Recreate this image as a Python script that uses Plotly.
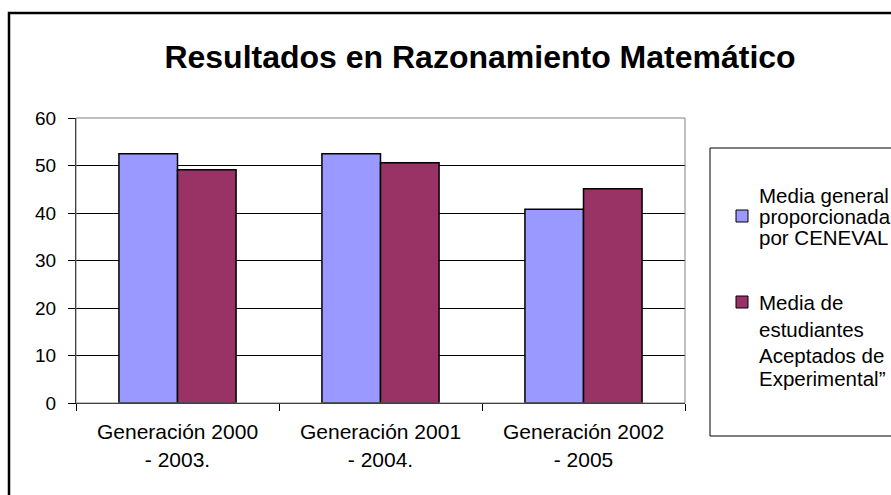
import plotly.graph_objects as go

# datos
categorias = ["Generación 2000<br>- 2003.", "Generación 2001<br>- 2004.", "Generación 2002<br>- 2005"]
media_ceneval = [52.5, 52.5, 40.8]
media_aceptados = [49.1, 50.6, 45.1]
etiqueta_1 = ["Media general", "proporcionada", "por CENEVAL"]
etiqueta_2 = ["Media de", "estudiantes", "Aceptados de", "Experimental”"]
y_ticks = [0, 10, 20, 30, 40, 50, 60]

AZUL = "#9999FF"
GRANATE = "#993366"
FUENTE = "Liberation Sans, Arial, sans-serif"

# area del grafico en pixeles
L, R, T, B = 76, 685, 118, 403
W, H = R - L, B - T


def px(x):
    return (x - L) / W


def py(y):
    return (B - y) / H


fig = go.Figure()
fig.add_trace(go.Bar(x=categorias, y=media_ceneval, name=" ".join(etiqueta_1),
                     marker=dict(color=AZUL, line=dict(color="black", width=1.5))))
fig.add_trace(go.Bar(x=categorias, y=media_aceptados, name=" ".join(etiqueta_2),
                     marker=dict(color=GRANATE, line=dict(color="black", width=1.5))))

shapes = [
    # borde exterior del grafico
    dict(type="rect", xref="paper", yref="paper", x0=px(9), x1=px(1000), y0=py(700), y1=py(13),
         line=dict(color="black", width=2.5), layer="below"),
    # borde del area de trazado
    dict(type="rect", xref="paper", yref="paper", x0=0, x1=1, y0=0, y1=1,
         line=dict(color="#808080", width=1), layer="above"),
    # caja de la leyenda
    dict(type="rect", xref="paper", yref="paper", x0=px(710), x1=px(1000), y0=py(436), y1=py(148),
         line=dict(color="black", width=1)),
    # simbolos de la leyenda
    dict(type="rect", xref="paper", yref="paper", x0=px(736), x1=px(748), y0=py(222), y1=py(210),
         fillcolor=AZUL, line=dict(color="black", width=1)),
    dict(type="rect", xref="paper", yref="paper", x0=px(736), x1=px(748), y0=py(308), y1=py(296),
         fillcolor=GRANATE, line=dict(color="black", width=1)),
]

annotations = []
for texto, yy in zip(etiqueta_1, [195, 216, 237]):
    annotations.append(dict(text=texto, xref="paper", yref="paper", x=px(757), y=py(yy),
                            xanchor="left", yanchor="middle", showarrow=False,
                            font=dict(size=20.5, color="black", family=FUENTE)))
for texto, yy in zip(etiqueta_2, [302, 329, 355, 378]):
    annotations.append(dict(text=texto, xref="paper", yref="paper", x=px(757), y=py(yy),
                            xanchor="left", yanchor="middle", showarrow=False,
                            font=dict(size=20.5, color="black", family=FUENTE)))

fig.update_layout(
    width=891, height=495,
    margin=dict(l=L, r=891 - R, t=T, b=495 - B),
    paper_bgcolor="white", plot_bgcolor="white",
    barmode="group", bargap=0.423, bargroupgap=0,
    showlegend=False,
    font=dict(family=FUENTE, size=19, color="black"),
    title=dict(text="<b>Resultados en Razonamiento Matemático</b>", xref="container", yref="container",
               x=480 / 891, xanchor="center", y=1 - 57 / 495, yanchor="middle",
               font=dict(size=32, color="black", family=FUENTE)),
    shapes=shapes,
    annotations=annotations,
)
fig.update_xaxes(showline=True, linecolor="black", linewidth=1, ticks="outside", tickson="boundaries",
                 ticklen=7, tickcolor="black", showgrid=False, tickfont=dict(size=21),
                 ticklabelstandoff=10)
fig.update_yaxes(range=[0, 60], tickvals=y_ticks, showline=True, linecolor="black", linewidth=1,
                 ticks="outside", ticklen=7, tickcolor="black", showgrid=True, gridcolor="black",
                 gridwidth=1, zeroline=False, tickfont=dict(size=19), ticklabelstandoff=8)

# la pagina por defecto deja 8px de margen en el body
fig.write_html("out.html", config={"displayModeBar": False},
               post_script="document.body.style.margin='0';")
